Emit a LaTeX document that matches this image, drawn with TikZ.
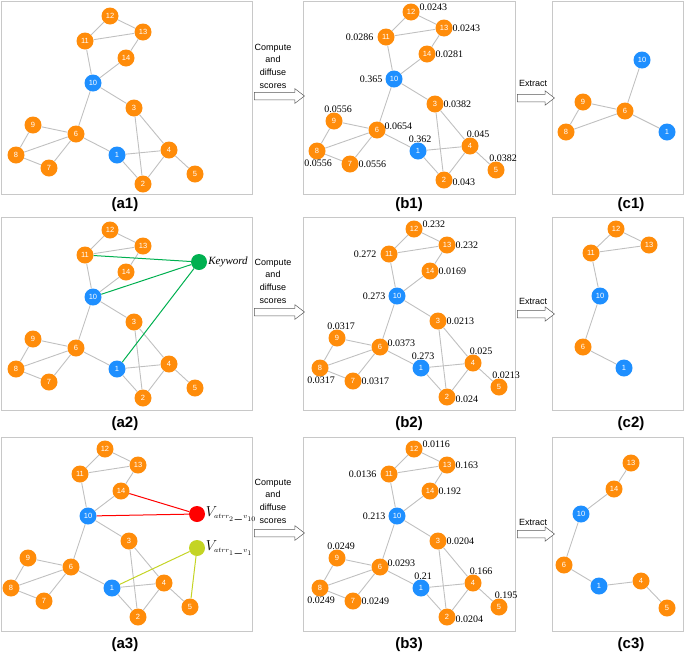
\documentclass[tikz,border=0pt]{standalone}
\usepackage{fontspec}
\setmainfont{Liberation Serif}
\setsansfont{Liberation Sans}
\usepackage{tikz}
\usetikzlibrary{positioning,shapes.arrows}
\definecolor{nodeorange}{HTML}{FF8C0A}
\definecolor{nodeblue}{HTML}{1E8FFF}
\definecolor{edgegrey}{HTML}{C0C0C0}
\definecolor{framegrey}{HTML}{C8C8C8}
\definecolor{kwgreen}{HTML}{00B050}
\definecolor{attrred}{HTML}{FF0000}
\definecolor{attrlime}{HTML}{C4D424}
\tikzset{
  vx/.style={circle,fill=nodeorange,minimum size=17pt,inner sep=0pt,
             text=white,font=\fontsize{7.5}{8}\selectfont\sffamily},
  vb/.style={vx,fill=nodeblue},
  attr/.style={circle,minimum size=16pt,inner sep=0pt},
  ed/.style={draw=edgegrey,line width=0.9pt},
  panelbox/.style={draw=framegrey,line width=0.8pt},
  score/.style={inner sep=0.5pt,font=\fontsize{10}{12}\selectfont},
  caption/.style={font=\fontsize{15}{18}\selectfont\sffamily\bfseries},
  flow/.style={single arrow,draw=black!65,fill=white,line width=0.5pt,
               inner xsep=0pt,inner ysep=3.5pt,single arrow head extend=3.5pt,
               single arrow tip angle=75},
  flowlab/.style={align=center,font=\fontsize{9}{12.7}\selectfont\sffamily},
  % where each score sits beside its vertex
  sc1/.style={anchor=south,xshift=2pt,yshift=8pt},
  sc2/.style={anchor=west,xshift=8pt,yshift=-2pt},
  sc3/.style={anchor=west,xshift=8pt},
  sc4/.style={anchor=south,xshift=8pt,yshift=8pt},
  sc5/.style={anchor=south,xshift=7pt,yshift=8pt},
  sc6/.style={anchor=west,xshift=7pt,yshift=4pt},
  sc7/.style={anchor=west,xshift=8pt},
  sc8/.style={anchor=north,xshift=1pt,yshift=-8pt},
  sc9/.style={anchor=south,xshift=4pt,yshift=8pt},
  sc10/.style={anchor=east,xshift=-11pt},
  sc11/.style={anchor=east,xshift=-12pt},
  sc12/.style={anchor=west,xshift=8pt,yshift=5pt},
  sc13/.style={anchor=west,xshift=8pt},
  sc14/.style={anchor=west,xshift=8pt},
}
% the 14-vertex graph, #1 = name prefix, (#2,#3) = offset
\newcommand{\basegraph}[3]{%
  \begin{scope}[shift={(#2,#3)}]
    \foreach \n/\x/\y in {2/143/184,3/134/108,4/169/150,5/195/174,6/76/134,
        7/49/168,8/16/155,9/33/125,11/85/41,12/110/16,13/143/32,14/126/58}
      \node[vx] (#1-\n) at (\x,\y) {\n};
    \foreach \n/\x/\y in {1/117/155,10/93/83}
      \node[vb] (#1-\n) at (\x,\y) {\n};
  \end{scope}
  \foreach \a/\b in {12/13,12/11,11/13,13/14,11/10,14/10,10/3,10/6,3/4,3/2,
      9/6,9/8,8/6,8/7,7/6,6/1,1/4,1/2,4/2,4/5}
    \draw[ed] (#1-\a) -- (#1-\b);
}
\begin{document}
\begin{tikzpicture}[x=1pt,y=-1pt]
  \useasboundingbox (0,0) rectangle (685,654);
  % panels
  \foreach \t/\b in {1/194,217/410,437/631}{
    \draw[panelbox] (1,\t) rectangle (252,\b);
    \draw[panelbox] (303,\t) rectangle (515,\b);
    \draw[panelbox] (552,\t) rectangle (683,\b);
  }
  % captions and arrows between panels
  \foreach \r/\yc/\ya/\yt/\ye/\yx in {1/205/96/66/98/83,2/424/312/281/314/301,
      3/645/533/501/534/522}{
    \node[caption] (cap-a\r) at (125,\yc) {(a\r)};
    \node[caption] (cap-b\r) at (409,\yc) {(b\r)};
    \node[caption] (cap-c\r) at (631,\yc) {(c\r)};
    \node[flow,minimum height=50pt] (comp\r) at (277,\ya) {};
    \node[flowlab] (comptxt\r) at (273,\yt) {Compute\\and\\diffuse\\scores};
    \node[flow,minimum height=37pt] (ext\r) at (533.5,\ye) {};
    \node[flowlab] (exttxt\r) at (533,\yx) {Extract};
  }

  % (a) column
  \basegraph{a1}{0}{0}
  \basegraph{a2}{0}{214}
  \basegraph{a3}{-5}{433}
  \node[attr,fill=kwgreen] (kw) at (199,262) {};
  \node[right=0pt of kw,inner sep=1pt,font=\fontsize{11}{13}\selectfont\itshape] (kwtxt) {Keyword};
  \foreach \n in {11,10,1} \draw[draw=kwgreen,line width=1pt] (kw) -- (a2-\n);
  \node[attr,fill=attrred] (atr2) at (197,514) {};
  \node[right=0pt of atr2,inner sep=0.5pt,font=\fontsize{14}{16}\selectfont] (atr2txt) {$V_{\scriptscriptstyle atrr_2\,\_\,v_{10}}$};
  \node[attr,fill=attrlime] (atr1) at (197,548) {};
  \node[right=0pt of atr1,inner sep=0.5pt,font=\fontsize{14}{16}\selectfont] (atr1txt) {$V_{\scriptscriptstyle atrr_1\,\_\,v_1}$};
  \foreach \n in {14,10} \draw[draw=attrred,line width=1pt] (atr2) -- (a3-\n);
  \foreach \n in {1,5} \draw[draw=attrlime,line width=1pt] (atr1) -- (a3-\n);

  % (b) column with scores
  \basegraph{b1}{301}{-4}
  \basegraph{b2}{304}{213}
  \basegraph{b3}{304}{433}
  \foreach \n/\v in {1/0.362,2/0.043,3/0.0382,4/0.045,5/0.0382,6/0.0654,7/0.0556,
      8/0.0556,9/0.0556,10/0.365,11/0.0286,12/0.0243,13/0.0243,14/0.0281}
    \node[score,sc\n] (s1-\n) at (b1-\n) {\v};
  \foreach \n/\v in {1/0.273,2/0.024,3/0.0213,4/0.025,5/0.0213,6/0.0373,7/0.0317,
      8/0.0317,9/0.0317,10/0.273,11/0.272,12/0.232,13/0.232,14/0.0169}
    \node[score,sc\n] (s2-\n) at (b2-\n) {\v};
  \foreach \n/\v in {1/0.21,2/0.0204,3/0.0204,4/0.166,5/0.195,6/0.0293,7/0.0249,
      8/0.0249,9/0.0249,10/0.213,11/0.0136,12/0.0116,13/0.163,14/0.192}
    \node[score,sc\n] (s3-\n) at (b3-\n) {\v};

  % (c) column, extracted subgraphs
  \foreach \n/\x/\y in {9/583/102,6/625/111,8/566/132}
    \node[vx] (c1-\n) at (\x,\y) {\n};
  \foreach \n/\x/\y in {10/642/60,1/667/132}
    \node[vb] (c1-\n) at (\x,\y) {\n};
  \foreach \a/\b in {10/6,9/6,9/8,8/6,6/1} \draw[ed] (c1-\a) -- (c1-\b);

  \foreach \n/\x/\y in {12/616/229,13/649/245,11/591/253,6/583/347}
    \node[vx] (c2-\n) at (\x,\y) {\n};
  \foreach \n/\x/\y in {10/600/296,1/624/368}
    \node[vb] (c2-\n) at (\x,\y) {\n};
  \foreach \a/\b in {12/13,12/11,11/13,11/10,10/6,6/1} \draw[ed] (c2-\a) -- (c2-\b);

  \foreach \n/\x/\y in {13/631/463,14/614/489,6/564/565,4/641/581,5/667/608}
    \node[vx] (c3-\n) at (\x,\y) {\n};
  \foreach \n/\x/\y in {10/581/514,1/599/586}
    \node[vb] (c3-\n) at (\x,\y) {\n};
  \foreach \a/\b in {13/14,14/10,10/6,6/1,1/4,4/5} \draw[ed] (c3-\a) -- (c3-\b);
\end{tikzpicture}
\end{document}
